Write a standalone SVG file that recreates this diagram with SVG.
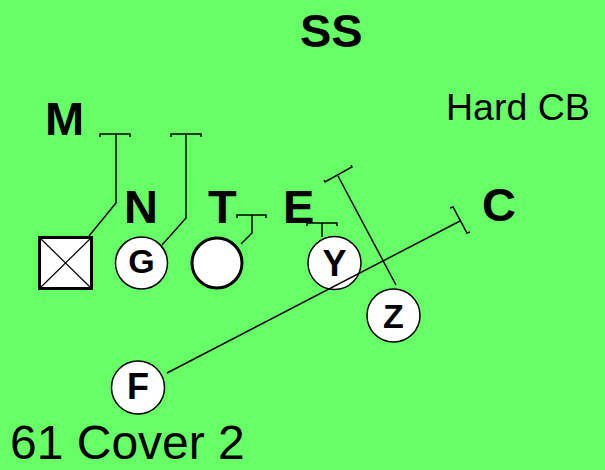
<svg xmlns="http://www.w3.org/2000/svg" width="605" height="470" viewBox="0 0 605 470">
<style>
.bg{fill:#66ff66}
.lbl{font-family:"Liberation Sans",Arial,sans-serif;font-weight:bold;font-size:47px;fill:#000}
.txt{font-family:"Liberation Sans",Arial,sans-serif;fill:#000}
.pl{fill:#fff;stroke:#000;stroke-width:1.5}
.pt{font-family:"Liberation Sans",Arial,sans-serif;font-weight:bold;fill:#000;text-anchor:middle}
.rt{fill:none;stroke:#000;stroke-width:1.5}
</style>
<rect class="bg" x="0" y="0" width="605" height="470"/>
<g id="labels">
<text class="lbl" x="300" y="47">SS</text>
<text class="lbl" x="45" y="135">M</text>
<text class="lbl" x="124" y="223">N</text>
<text class="lbl" x="208" y="223">T</text>
<text class="lbl" x="283" y="223">E</text>
<text class="lbl" x="482" y="221">C</text>
<text class="txt" x="446" y="120" font-size="37.5">Hard CB</text>
<text class="txt" x="10" y="459" font-size="48">61 Cover 2</text>
</g>
<g id="center">
<rect x="39.5" y="237.5" width="52" height="51" fill="#fff" stroke="#000" stroke-width="3"/>
<path d="M39.5 237.5L91.5 288.5M91.5 237.5L39.5 288.5" stroke="#000" stroke-width="1.2" fill="none"/>
</g>
<g id="G"><circle class="pl" cx="141.5" cy="263" r="26"/><text class="pt" x="141.5" y="273" font-size="34">G</text></g>
<g id="T"><circle cx="217" cy="263" r="25" fill="#fff" stroke="#000" stroke-width="3"/></g>
<g id="Y"><circle class="pl" cx="334.5" cy="263" r="26.5"/><text class="pt" x="334.5" y="276" font-size="36">Y</text></g>
<g id="Z"><circle class="pl" cx="393.5" cy="315.5" r="26.5"/><text class="pt" x="393.5" y="328" font-size="34">Z</text></g>
<g id="F"><circle class="pl" cx="138" cy="387.5" r="26.5"/><text class="pt" x="138" y="399" font-size="36">F</text></g>
<g id="connectors">
<path class="rt" d="M89 236L116 203V134M100 137V134H130V137"/>
<path class="rt" d="M162 245L186 218V134M171 137V134H201V137"/>
<path class="rt" d="M241 244L252 233V215M237 218V215H266V218"/>
<path class="rt" d="M322 237V223M307 226V223H337V226"/>
<path class="rt" d="M396 285L338 176M324 180L325 182L352 167L351 165"/>
<path class="rt" d="M167 373L460 221M450 208L453 207L467 233L470 232"/>
</g>
</svg>
